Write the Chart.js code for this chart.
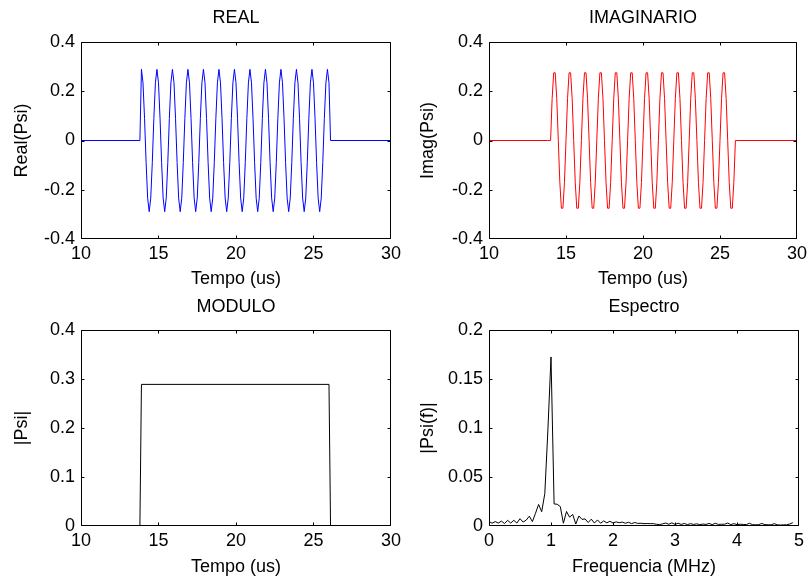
<!DOCTYPE html>
<html>
<head>
<meta charset="utf-8">
<title>Psi</title>
<script src="https://cdn.jsdelivr.net/npm/chart.js@4.4.1/dist/chart.umd.min.js"></script>
<style>
  body { margin: 0; background: #fff; }
  #figure { position: relative; width: 811px; height: 580px; }
  #figure canvas { position: absolute; }
</style>
</head>
<body>
<div id="figure">
  <canvas id="real" width="405" height="290" style="left:0;top:0"></canvas>
  <canvas id="imag" width="406" height="290" style="left:405px;top:0"></canvas>
  <canvas id="modulo" width="405" height="290" style="left:0;top:290px"></canvas>
  <canvas id="espectro" width="406" height="290" style="left:405px;top:290px"></canvas>
</div>
<script>
// sample times (us), shared by the real and imaginary parts
const tempo = [
  10, 13.8,
  13.9, 14, 14.1, 14.2, 14.3, 14.4, 14.5, 14.6, 14.7, 14.8,
  14.9, 15, 15.1, 15.2, 15.3, 15.4, 15.5, 15.6, 15.7, 15.8,
  15.9, 16, 16.1, 16.2, 16.3, 16.4, 16.5, 16.6, 16.7, 16.8,
  16.9, 17, 17.1, 17.2, 17.3, 17.4, 17.5, 17.6, 17.7, 17.8,
  17.9, 18, 18.1, 18.2, 18.3, 18.4, 18.5, 18.6, 18.7, 18.8,
  18.9, 19, 19.1, 19.2, 19.3, 19.4, 19.5, 19.6, 19.7, 19.8,
  19.9, 20, 20.1, 20.2, 20.3, 20.4, 20.5, 20.6, 20.7, 20.8,
  20.9, 21, 21.1, 21.2, 21.3, 21.4, 21.5, 21.6, 21.7, 21.8,
  21.9, 22, 22.1, 22.2, 22.3, 22.4, 22.5, 22.6, 22.7, 22.8,
  22.9, 23, 23.1, 23.2, 23.3, 23.4, 23.5, 23.6, 23.7, 23.8,
  23.9, 24, 24.1, 24.2, 24.3, 24.4, 24.5, 24.6, 24.7, 24.8,
  24.9, 25, 25.1, 25.2, 25.3, 25.4, 25.5, 25.6, 25.7, 25.8,
  25.9, 26,
  26.1, 30
];

const psiReal = [
  0, 0,
  0.289, 0.234, 0.089, -0.089, -0.234, -0.289, -0.234, -0.089, 0.089, 0.234,
  0.289, 0.234, 0.089, -0.089, -0.234, -0.289, -0.234, -0.089, 0.089, 0.234,
  0.289, 0.234, 0.089, -0.089, -0.234, -0.289, -0.234, -0.089, 0.089, 0.234,
  0.289, 0.234, 0.089, -0.089, -0.234, -0.289, -0.234, -0.089, 0.089, 0.234,
  0.289, 0.234, 0.089, -0.089, -0.234, -0.289, -0.234, -0.089, 0.089, 0.234,
  0.289, 0.234, 0.089, -0.089, -0.234, -0.289, -0.234, -0.089, 0.089, 0.234,
  0.289, 0.234, 0.089, -0.089, -0.234, -0.289, -0.234, -0.089, 0.089, 0.234,
  0.289, 0.234, 0.089, -0.089, -0.234, -0.289, -0.234, -0.089, 0.089, 0.234,
  0.289, 0.234, 0.089, -0.089, -0.234, -0.289, -0.234, -0.089, 0.089, 0.234,
  0.289, 0.234, 0.089, -0.089, -0.234, -0.289, -0.234, -0.089, 0.089, 0.234,
  0.289, 0.234, 0.089, -0.089, -0.234, -0.289, -0.234, -0.089, 0.089, 0.234,
  0.289, 0.234, 0.089, -0.089, -0.234, -0.289, -0.234, -0.089, 0.089, 0.234,
  0.289, 0.234,
  0, 0
];

const psiImag = [
  0, 0,
  0, 0, 0.170, 0.275, 0.275, 0.170, 0, -0.170, -0.275, -0.275,
  -0.170, 0, 0.170, 0.275, 0.275, 0.170, 0, -0.170, -0.275, -0.275,
  -0.170, 0, 0.170, 0.275, 0.275, 0.170, 0, -0.170, -0.275, -0.275,
  -0.170, 0, 0.170, 0.275, 0.275, 0.170, 0, -0.170, -0.275, -0.275,
  -0.170, 0, 0.170, 0.275, 0.275, 0.170, 0, -0.170, -0.275, -0.275,
  -0.170, 0, 0.170, 0.275, 0.275, 0.170, 0, -0.170, -0.275, -0.275,
  -0.170, 0, 0.170, 0.275, 0.275, 0.170, 0, -0.170, -0.275, -0.275,
  -0.170, 0, 0.170, 0.275, 0.275, 0.170, 0, -0.170, -0.275, -0.275,
  -0.170, 0, 0.170, 0.275, 0.275, 0.170, 0, -0.170, -0.275, -0.275,
  -0.170, 0, 0.170, 0.275, 0.275, 0.170, 0, -0.170, -0.275, -0.275,
  -0.170, 0, 0.170, 0.275, 0.275, 0.170, 0, -0.170, -0.275, -0.275,
  -0.170, 0, 0.170, 0.275, 0.275, 0.170, 0, -0.170, -0.275, -0.275,
  -0.170, 0,
  0, 0
];

// envelope |Psi|
const tempoModulo = [10, 13.8, 13.9, 26, 26.1, 30];
const psiModulo = [0, 0, 0.289, 0.289, 0, 0];

// magnitude spectrum, 0.05 MHz bins
const frequencia = [
  0, 0.05, 0.1, 0.15, 0.2, 0.25, 0.3, 0.35, 0.4, 0.45,
  0.5, 0.55, 0.6, 0.65, 0.7, 0.75, 0.8, 0.85, 0.9, 0.95,
  1, 1.05, 1.1, 1.15, 1.2, 1.25, 1.3, 1.35, 1.4, 1.45,
  1.5, 1.55, 1.6, 1.65, 1.7, 1.75, 1.8, 1.85, 1.9, 1.95,
  2, 2.05, 2.1, 2.15, 2.2, 2.25, 2.3, 2.35, 2.4, 2.45,
  2.5, 2.55, 2.6, 2.65, 2.7, 2.75, 2.8, 2.85, 2.9, 2.95,
  3, 3.05, 3.1, 3.15, 3.2, 3.25, 3.3, 3.35, 3.4, 3.45,
  3.5, 3.55, 3.6, 3.65, 3.7, 3.75, 3.8, 3.85, 3.9, 3.95,
  4, 4.05, 4.1, 4.15, 4.2, 4.25, 4.3, 4.35, 4.4, 4.45,
  4.5, 4.55, 4.6, 4.65, 4.7, 4.75, 4.8, 4.85, 4.9
];
const psiEspectro = [
  0.0045, 0.0028, 0.0045, 0.0030, 0.0050, 0.0025, 0.0058, 0.0030, 0.0058, 0.0030,
  0.0075, 0.0040, 0.0060, 0.0100, 0.0044, 0.0130, 0.0220, 0.0146, 0.0330, 0.0980,
  0.1725, 0.0225, 0.0222, 0.0198, 0.0028, 0.0148, 0.0090, 0.0118, 0.0020, 0.0102,
  0.0068, 0.0072, 0.0035, 0.0070, 0.0030, 0.0062, 0.0028, 0.0052, 0.0032, 0.0048,
  0.0030, 0.0042, 0.0034, 0.0040, 0.0028, 0.0038, 0.0024, 0.0036, 0.0026, 0.0028,
  0.0024, 0.0025, 0.0024, 0.0024, 0.0018, 0.0014, 0.0022, 0.0030, 0.0018, 0.0032,
  0.0016, 0.0028, 0.0016, 0.0026, 0.0014, 0.0024, 0.0016, 0.0022, 0.0014, 0.0020,
  0.0016, 0.0026, 0.0014, 0.0028, 0.0016, 0.0018, 0.0018, 0.0030, 0.0014, 0.0024,
  0.0014, 0.0018, 0.0016, 0.0014, 0.0028, 0.0014, 0.0012, 0.0014, 0.0026, 0.0014,
  0.0012, 0.0012, 0.0024, 0.0012, 0.0010, 0.0012, 0.0012, 0.0020, 0.0034
];

const tempoTicks = [10, 15, 20, 25, 30];
const psiTicks = [-0.4, -0.2, 0, 0.2, 0.4];
const moduloTicks = [0, 0.1, 0.2, 0.3, 0.4];
const freqTicks = [0, 1, 2, 3, 4, 5];
const espectroTicks = [0, 0.05, 0.1, 0.15, 0.2];

Chart.defaults.font.family = "'Liberation Sans', Arial, sans-serif";
Chart.defaults.font.size = 18;
Chart.defaults.color = '#000';

// closed box with short inward tick marks on all four sides
const axesBox = {
  id: 'axesBox',
  afterDatasetsDraw(chart) {
    const {ctx, chartArea: a, scales: {x, y}} = chart;
    const L = Math.round(a.left) + 0.5, R = Math.round(a.right) - 0.5;
    const T = Math.round(a.top) + 0.5, B = Math.round(a.bottom) - 0.5;
    const len = 3;
    const clamp = (v, lo, hi) => Math.min(Math.max(v, lo), hi);
    ctx.save();
    ctx.strokeStyle = '#000';
    ctx.lineWidth = 1;
    ctx.beginPath();
    ctx.rect(L, T, R - L, B - T);
    x.ticks.forEach(t => {
      const px = clamp(Math.round(x.getPixelForValue(t.value)) + 0.5, L, R);
      ctx.moveTo(px, B); ctx.lineTo(px, B - len);
      ctx.moveTo(px, T); ctx.lineTo(px, T + len);
    });
    y.ticks.forEach(t => {
      const py = clamp(Math.round(y.getPixelForValue(t.value)) + 0.5, T, B);
      ctx.moveTo(L, py); ctx.lineTo(L + len, py);
      ctx.moveTo(R, py); ctx.lineTo(R - len, py);
    });
    ctx.stroke();
    ctx.restore();
  }
};

function subplot(id, o) {
  const fixedTicks = list => scale => { scale.ticks = list.map(v => ({value: v})); };
  return new Chart(document.getElementById(id), {
    type: 'line',
    data: {
      datasets: [{
        data: o.xs.map((x, i) => ({x: x, y: o.ys[i]})),
        borderColor: o.color,
        borderWidth: 1,
        pointRadius: 0,
        tension: 0,
        fill: false,
        xAxisID: 'x',
        yAxisID: 'y'
      }]
    },
    plugins: [axesBox],
    options: {
      responsive: false,
      animation: false,
      layout: {padding: {left: 0, top: 0, bottom: 0, right: o.padRight}},
      plugins: {
        legend: {display: false},
        tooltip: {enabled: false},
        title: {display: false}
      },
      scales: {
        x: {
          type: 'linear',
          position: 'bottom',
          min: o.xTicks[0],
          max: o.xTicks[o.xTicks.length - 1],
          afterBuildTicks: fixedTicks(o.xTicks),
          ticks: {padding: 4, maxRotation: 0, autoSkip: false, callback: v => String(v)},
          grid: {display: false, drawTicks: false},
          border: {display: false},
          title: {display: true, text: o.xTitle, padding: {top: 0, bottom: o.xTitlePad}},
          afterFit: s => { s.height = o.xHeight; }
        },
        y: {
          type: 'linear',
          position: 'left',
          min: o.yTicks[0],
          max: o.yTicks[o.yTicks.length - 1],
          afterBuildTicks: fixedTicks(o.yTicks),
          ticks: {padding: 6, autoSkip: false, callback: v => String(v)},
          grid: {display: false, drawTicks: false},
          border: {display: false},
          title: {display: true, text: o.yTitle, padding: {top: o.yTitlePad, bottom: 0}},
          afterFit: s => { s.width = o.yWidth; }
        },
        top: {
          axis: 'x',
          type: 'linear',
          position: 'top',
          min: 0,
          max: 1,
          ticks: {display: false},
          grid: {display: false, drawTicks: false},
          border: {display: false},
          title: {display: true, text: o.title, padding: {top: o.titlePad, bottom: 0}},
          afterFit: s => { s.height = o.topHeight; }
        }
      }
    }
  });
}

subplot('real', {
  xs: tempo, ys: psiReal, color: '#0000ff',
  title: 'REAL', xTitle: 'Tempo (us)', yTitle: 'Real(Psi)',
  xTicks: tempoTicks, yTicks: psiTicks,
  padRight: 13, yWidth: 81, xHeight: 51, topHeight: 42,
  titlePad: 7, yTitlePad: 11, xTitlePad: 0
});

subplot('imag', {
  xs: tempo, ys: psiImag, color: '#ff0000',
  title: 'IMAGINARIO', xTitle: 'Tempo (us)', yTitle: 'Imag(Psi)',
  xTicks: tempoTicks, yTicks: psiTicks,
  padRight: 12, yWidth: 84, xHeight: 51, topHeight: 42,
  titlePad: 7, yTitlePad: 12, xTitlePad: 0
});

subplot('modulo', {
  xs: tempoModulo, ys: psiModulo, color: '#000000',
  title: 'MODULO', xTitle: 'Tempo (us)', yTitle: '|Psi|',
  xTicks: tempoTicks, yTicks: moduloTicks,
  padRight: 13, yWidth: 81, xHeight: 54, topHeight: 40,
  titlePad: 6, yTitlePad: 11, xTitlePad: 2
});

subplot('espectro', {
  xs: frequencia, ys: psiEspectro, color: '#000000',
  title: 'Espectro', xTitle: 'Frequencia (MHz)', yTitle: '|Psi(f)|',
  xTicks: freqTicks, yTicks: espectroTicks,
  padRight: 12, yWidth: 84, xHeight: 54, topHeight: 40,
  titlePad: 6, yTitlePad: 12, xTitlePad: 2
});
</script>
</body>
</html>
